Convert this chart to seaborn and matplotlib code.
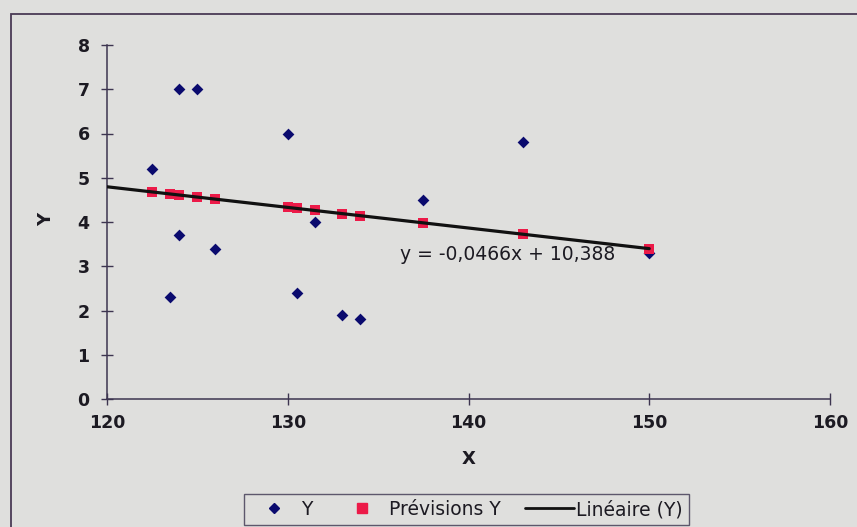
import numpy as np
import pandas as pd
import matplotlib
matplotlib.use("Agg")
import matplotlib.pyplot as plt
from matplotlib.patches import Rectangle
from matplotlib.lines import Line2D
import seaborn as sns

# Observations
x_obs = [122.5, 124, 125, 130, 143, 137.5, 131.5, 124, 126, 150, 123.5, 130.5, 133, 134]
y_obs = [5.2, 7.0, 7.0, 6.0, 5.8, 4.5, 4.0, 3.7, 3.4, 3.3, 2.3, 2.4, 1.9, 1.8]

# Linear trend coefficients (y = a*x + b)
slope = -0.0466
intercept = 10.388

# x positions where predictions are shown
x_pred = [122.5, 123.5, 124, 125, 126, 130, 130.5, 131.5, 133, 134, 137.5, 143, 150]
trend_x = [120, 150]

x_ticks = [120, 130, 140, 150, 160]
y_ticks = [0, 1, 2, 3, 4, 5, 6, 7, 8]

bg = "#dfdfdd"
navy = "#0a0a6e"
red = "#ec1a48"
ink = "#1c1a22"
axis_col = "#3d3550"

sns.set_theme(style="white")
plt.rcParams["font.family"] = ["DejaVu Sans"]

obs = pd.DataFrame({"X": x_obs, "Y": y_obs})
pred = pd.DataFrame({"X": x_pred, "Yhat": [slope * v + intercept for v in x_pred]})
trend = pd.DataFrame({"X": trend_x, "Yt": [slope * v + intercept for v in trend_x]})

W, H = 857, 527
fig = plt.figure(figsize=(W / 100, H / 100), dpi=100, facecolor=bg)
ax = fig.add_axes([107 / W, 1 - 399 / H, (830 - 107) / W, (399 - 45) / H])
ax.set_facecolor(bg)

sns.scatterplot(data=obs, x="X", y="Y", marker="D", s=36, color=navy,
                edgecolor=navy, linewidth=0, ax=ax, zorder=3)
sns.scatterplot(data=pred, x="X", y="Yhat", marker="s", s=50, color=red,
                edgecolor=red, linewidth=0, ax=ax, zorder=4)
ax.text(136.2, 3.14, "y = -0,0466x + 10,388", fontsize=13.5, color=ink,
        ha="left", va="baseline", zorder=4)
sns.lineplot(data=trend, x="X", y="Yt", color="#111111", linewidth=2.3,
             ax=ax, zorder=5)

ax.set_xlim(120, 160)
ax.set_ylim(0, 8)
ax.set_xticks(x_ticks)
ax.set_yticks(y_ticks)
ax.set_xticklabels([str(v) for v in x_ticks], fontsize=12.5, fontweight="bold", color=ink)
ax.set_yticklabels([str(v) for v in y_ticks], fontsize=12.5, fontweight="bold", color=ink)
ax.tick_params(axis="both", direction="inout", length=9, width=1, color=axis_col,
               bottom=True, left=True)
ax.tick_params(axis="x", pad=6)
ax.tick_params(axis="y", pad=8)

for side in ["top", "right"]:
    ax.spines[side].set_visible(False)
for side in ["left", "bottom"]:
    ax.spines[side].set_color(axis_col)
    ax.spines[side].set_linewidth(1.1)

ax.set_xlabel("X", fontsize=13, fontweight="bold", color=ink, va="center", ha="center")
ax.set_ylabel("Y", fontsize=13, fontweight="bold", color=ink, va="center", ha="center")
ax.xaxis.set_label_coords(0.5, (399 - 459) / 354)
ax.yaxis.set_label_coords((46 - 107) / 723, (399 - 219) / 354)

# Outer chart frame
fig.patches.append(Rectangle((11 / W, -0.1), 1.2, 1.1 - 14 / H,
                             transform=fig.transFigure, fill=False,
                             edgecolor="#4a3a55", linewidth=1.3))

handles = [
    Line2D([], [], marker="D", linestyle="none", color=navy, markersize=5.5),
    Line2D([], [], marker="s", linestyle="none", color=red, markersize=6.5),
    Line2D([], [], color="#111111", linewidth=2),
]
leg = fig.legend(handles, ["Y", "Prévisions Y", "Linéaire (Y)"], ncol=3,
                 loc="center", bbox_to_anchor=(466.5 / W, 1 - 509.5 / H),
                 frameon=True, fancybox=False, fontsize=13.5, handlelength=2.6,
                 handletextpad=0.15, columnspacing=1.3, borderpad=0.3,
                 borderaxespad=0)
for t in leg.get_texts():
    t.set_color(ink)
leg.get_frame().set_edgecolor(axis_col)
leg.get_frame().set_facecolor(bg)
leg.get_frame().set_linewidth(1.0)

fig.savefig("out.png", dpi=100, facecolor=bg)
